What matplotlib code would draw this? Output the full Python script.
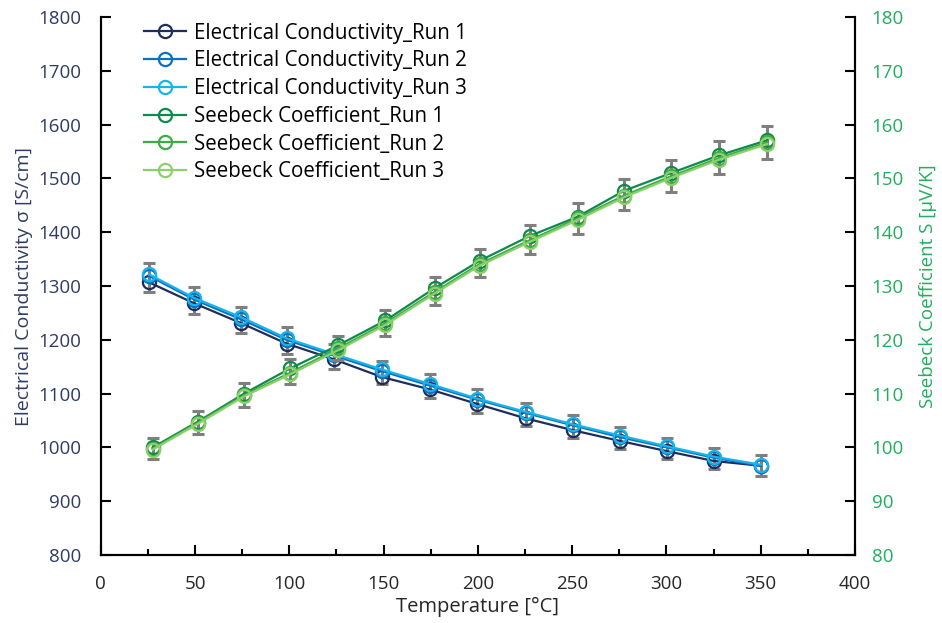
import matplotlib
matplotlib.use("Agg")
import matplotlib.pyplot as plt
import numpy as np
from matplotlib.ticker import MultipleLocator

plt.rcParams['font.family'] = ['Open Sans', 'DejaVu Sans']

# ---- data ----
temp_ec = [25.5, 49.5, 74.5, 98.5, 123.5, 149, 174.5, 199.5, 225.5, 250.5, 275.5, 300.5, 325, 350]
ec_run1 = [1307, 1268, 1231, 1193, 1164, 1131, 1108, 1081, 1054, 1032, 1012, 993, 975, 966]
ec_run2 = [1319, 1275, 1238, 1200, 1171, 1142, 1115, 1089, 1064, 1041, 1019, 1000, 981, 966]
ec_run3 = [1322, 1278, 1242, 1203, 1174, 1145, 1118, 1091, 1066, 1043, 1022, 1002, 983, 968]
ec_err = [27, 25, 24.5, 24.5, 23, 22, 22, 22, 21, 21, 21, 20, 20, 20]

temp_sc = [27.5, 51.5, 76, 100.5, 126, 151, 177, 201, 227.5, 253, 277.5, 302.5, 328, 353.5]
sc_run1 = [100.0, 104.8, 110.0, 114.7, 119.0, 123.6, 129.6, 134.7, 139.3, 142.9, 147.7, 151.0, 154.3, 157.1]
sc_run2 = [99.8, 104.6, 109.7, 113.9, 118.4, 123.1, 128.9, 134.1, 138.5, 142.6, 146.8, 150.4, 153.8, 156.7]
sc_run3 = [99.6, 104.4, 109.5, 113.6, 118.1, 122.8, 128.6, 133.8, 138.2, 142.3, 146.5, 150.1, 153.5, 156.4]
sc_err = [2.0, 2.1, 2.2, 2.3, 2.2, 2.4, 2.6, 2.6, 2.7, 2.85, 2.9, 2.95, 3.1, 3.1]

ec_labels = ["Electrical Conductivity_Run 1", "Electrical Conductivity_Run 2", "Electrical Conductivity_Run 3"]
sc_labels = ["Seebeck Coefficient_Run 1", "Seebeck Coefficient_Run 2", "Seebeck Coefficient_Run 3"]

ec_colors = ["#1F2D5A", "#0A70C0", "#17B4EC"]
sc_colors = ["#0E8A4A", "#3FAA48", "#8CD06A"]
navy = "#2E3B66"
green = "#1FAE5E"
err_color = "#7F7F7F"

fig = plt.figure(figsize=(9.42, 6.23), dpi=100)
ax = fig.add_axes([0.107, 0.109, 0.8006, 0.8637])
ax2 = ax.twinx()

ms = 9.5
lw = 1.6
mew = 1.6

ec_mean = np.mean([ec_run1, ec_run2, ec_run3], axis=0)
sc_mean = np.mean([sc_run1, sc_run2, sc_run3], axis=0)

ax.errorbar(temp_ec, ec_mean, yerr=ec_err, fmt='none', ecolor=err_color,
            elinewidth=2.2, capsize=4, capthick=2.2, zorder=1)
handles = []
for y, c, lab in zip([ec_run1, ec_run2, ec_run3], ec_colors, ec_labels):
    h, = ax.plot(temp_ec, y, color=c, lw=lw, marker='o', ms=ms, mfc='none',
                 mec=c, mew=mew, label=lab, zorder=2)
    handles.append(h)

ax2.errorbar(temp_sc, sc_mean, yerr=sc_err, fmt='none', ecolor=err_color,
             elinewidth=2.2, capsize=4, capthick=2.2, zorder=1)
for y, c, lab in zip([sc_run1, sc_run2, sc_run3], sc_colors, sc_labels):
    h, = ax2.plot(temp_sc, y, color=c, lw=lw, marker='o', ms=ms, mfc='none',
                  mec=c, mew=mew, label=lab, zorder=2)
    handles.append(h)

ax.set_xlim(0, 400)
ax.set_ylim(800, 1800)
ax2.set_ylim(80, 180)
ax.xaxis.set_major_locator(MultipleLocator(50))
ax.xaxis.set_minor_locator(MultipleLocator(25))
ax.yaxis.set_major_locator(MultipleLocator(100))
ax2.yaxis.set_major_locator(MultipleLocator(10))

fs = 13.5
ax.tick_params(axis='x', which='major', direction='in', length=7, width=1.5,
               labelsize=fs, labelcolor="#262626", pad=14)
ax.tick_params(axis='x', which='minor', direction='in', length=4, width=1.5)
ax.tick_params(axis='y', which='major', direction='in', length=7, width=1.5,
               labelsize=fs, labelcolor=navy, pad=14)
ax2.tick_params(axis='y', which='major', direction='in', length=7, width=1.5,
                labelsize=fs, labelcolor=green, pad=12)

for a in (ax, ax2):
    a.spines['top'].set_visible(False)
    for s in ('left', 'right', 'bottom'):
        a.spines[s].set_linewidth(1.5)
        a.spines[s].set_color('black')

ax.set_xlabel("Temperature [°C]", fontsize=14.5, color="#262626", labelpad=3)
ax.set_ylabel("Electrical Conductivity σ [S/cm]", fontsize=14, color=navy, labelpad=4)
ax2.set_ylabel("Seebeck Coefficient S [μV/K]", fontsize=13.5, color=green, labelpad=11)

ax2.legend(handles=handles, loc='upper left', bbox_to_anchor=(0.047, 1.005),
           frameon=False, fontsize=14.8, handlelength=2.0, handletextpad=0.4,
           labelspacing=0.33, borderaxespad=0)

fig.savefig("out.png", dpi=100)
